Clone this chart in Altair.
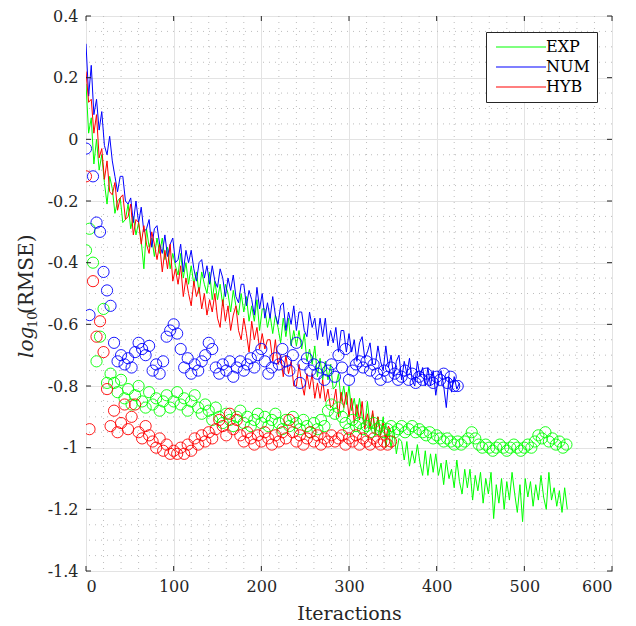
import altair as alt
import pandas as pd

# ---------------- data ----------------
series_names = ["EXP", "NUM", "HYB"]
series_colors = ["#00FF00", "#0000FF", "#FF0000"]

LINE_STEP = 3    # iterations between line samples
CIRC_STEP = 4    # iterations between circle samples

exp_line = [
    0.18, 0.02, 0.07, -0.08, 0.00, -0.10, -0.05, -0.14, -0.21, -0.12,
    -0.16, -0.24, -0.20, -0.19, -0.27, -0.26, -0.21, -0.29, -0.25, -0.31,
    -0.27, -0.33, -0.42, -0.29, -0.35, -0.32, -0.38, -0.32, -0.37, -0.32,
    -0.39, -0.35, -0.42, -0.37, -0.41, -0.44, -0.37, -0.45, -0.40, -0.47,
    -0.41, -0.47, -0.43, -0.50, -0.43, -0.47, -0.50, -0.43, -0.52, -0.46,
    -0.52, -0.47, -0.54, -0.47, -0.50, -0.56, -0.49, -0.54, -0.57, -0.50,
    -0.56, -0.51, -0.59, -0.54, -0.59, -0.52, -0.62, -0.55, -0.55, -0.61,
    -0.57, -0.63, -0.57, -0.61, -0.66, -0.58, -0.64, -0.58, -0.67, -0.62,
    -0.67, -0.62, -0.68, -0.63, -0.72, -0.68, -0.73, -0.67, -0.77, -0.71,
    -0.78, -0.72, -0.78, -0.73, -0.81, -0.80, -0.76, -0.85, -0.80, -0.86,
    -0.80, -0.88, -0.84, -0.90, -0.84, -0.90, -0.93, -0.85, -0.93, -0.89,
    -0.96, -0.90, -0.96, -0.90, -1.00, -0.94, -1.00, -0.94, -1.02, -0.97,
    -0.98, -1.04, -0.98, -1.06, -1.01, -1.05, -0.99, -1.05, -1.09, -1.01,
    -1.09, -1.02, -1.08, -1.02, -1.09, -1.05, -1.12, -1.04, -1.10, -1.07,
    -1.13, -1.04, -1.11, -1.15, -1.07, -1.13, -1.07, -1.17, -1.09, -1.14,
    -1.08, -1.18, -1.10, -1.15, -1.08, -1.23, -1.12, -1.18, -1.10, -1.20,
    -1.11, -1.17, -1.08, -1.15, -1.21, -1.12, -1.24, -1.10, -1.16, -1.11,
    -1.19, -1.12, -1.17, -1.09, -1.16, -1.20, -1.08, -1.17, -1.13, -1.19,
    -1.14, -1.21, -1.13, -1.20,
]

num_line = [
    0.31, 0.14, 0.24, 0.08, 0.13, 0.03, 0.09, -0.02, -0.05, 0.01,
    -0.07, -0.12, -0.17, -0.12, -0.12, -0.20, -0.21, -0.19, -0.27, -0.20,
    -0.27, -0.22, -0.30, -0.29, -0.26, -0.35, -0.29, -0.28, -0.34, -0.37,
    -0.31, -0.38, -0.34, -0.32, -0.40, -0.39, -0.34, -0.43, -0.36, -0.40,
    -0.36, -0.42, -0.46, -0.40, -0.39, -0.45, -0.41, -0.47, -0.41, -0.46,
    -0.48, -0.42, -0.45, -0.51, -0.45, -0.49, -0.44, -0.51, -0.53, -0.47,
    -0.47, -0.54, -0.49, -0.52, -0.57, -0.48, -0.55, -0.50, -0.58, -0.53,
    -0.58, -0.51, -0.57, -0.60, -0.54, -0.53, -0.62, -0.56, -0.60, -0.54,
    -0.62, -0.56, -0.56, -0.62, -0.64, -0.56, -0.61, -0.58, -0.65, -0.58,
    -0.64, -0.58, -0.67, -0.62, -0.66, -0.61, -0.69, -0.62, -0.62, -0.69,
    -0.63, -0.69, -0.65, -0.72, -0.66, -0.64, -0.71, -0.69, -0.66, -0.73,
    -0.73, -0.67, -0.72, -0.75, -0.67, -0.74, -0.70, -0.77, -0.72, -0.70,
    -0.78, -0.72, -0.76, -0.71, -0.78, -0.80, -0.72, -0.77, -0.74, -0.80,
    -0.74, -0.80, -0.75, -0.83, -0.77, -0.75, -0.80, -0.87, -0.77, -0.82,
    -0.77, -0.81, -0.79,
]

hyb_line = [
    0.22, 0.12, 0.13, 0.02, 0.08, -0.06, -0.03, -0.13, -0.07, -0.17,
    -0.18, -0.14, -0.23, -0.19, -0.18, -0.26, -0.25, -0.21, -0.31, -0.26,
    -0.27, -0.34, -0.28, -0.34, -0.37, -0.30, -0.34, -0.39, -0.34, -0.43,
    -0.36, -0.42, -0.34, -0.46, -0.42, -0.47, -0.41, -0.51, -0.45, -0.50,
    -0.54, -0.46, -0.51, -0.48, -0.55, -0.50, -0.57, -0.52, -0.56, -0.50,
    -0.58, -0.61, -0.52, -0.59, -0.54, -0.62, -0.57, -0.54, -0.62, -0.65,
    -0.58, -0.63, -0.69, -0.59, -0.65, -0.61, -0.68, -0.63, -0.68, -0.65,
    -0.65, -0.72, -0.65, -0.73, -0.70, -0.77, -0.70, -0.76, -0.72, -0.80,
    -0.80, -0.73, -0.79, -0.83, -0.76, -0.81, -0.76, -0.84, -0.79, -0.84,
    -0.78, -0.85, -0.81, -0.87, -0.86, -0.81, -0.90, -0.82, -0.87, -0.82,
    -0.90, -0.84, -0.92, -0.86, -0.91, -0.85, -0.94, -0.89, -0.94, -0.88,
    -0.95, -0.90, -0.96, -0.92, -0.97, -0.93, -0.95,
]

exp_circ = [
    -0.36, -0.29, -0.40, -0.72, -0.64, -0.55, -0.79, -0.76, -0.79, -0.82,
    -0.78, -0.84, -0.81, -0.86, -0.83, -0.80, -0.85, -0.87, -0.82, -0.86,
    -0.84, -0.88, -0.85, -0.83, -0.87, -0.85, -0.82, -0.86, -0.84, -0.88,
    -0.85, -0.83, -0.87, -0.89, -0.86, -0.88, -0.91, -0.87, -0.90, -0.92,
    -0.89, -0.91, -0.93, -0.90, -0.88, -0.92, -0.90, -0.93, -0.91, -0.89,
    -0.92, -0.90, -0.93, -0.91, -0.89, -0.92, -0.94, -0.91, -0.93, -0.90,
    -0.92, -0.94, -0.91, -0.93, -0.95, -0.92, -0.94, -0.91, -0.93, -0.88,
    -0.86, -0.89, -0.87, -0.90, -0.92, -0.94, -0.91, -0.93, -0.92, -0.94,
    -0.93, -0.95, -0.92, -0.94, -0.93, -0.95, -0.94, -0.93, -0.95, -0.94,
    -0.93, -0.95, -0.94, -0.93, -0.95, -0.94, -0.95, -0.96, -0.95, -0.97,
    -0.96, -0.97, -0.98, -0.97, -0.98, -0.99, -0.98, -0.99, -0.98, -0.97,
    -0.95, -0.97, -0.99, -1.00, -0.99, -1.00, -1.01, -1.00, -0.99, -1.00,
    -1.01, -1.00, -0.99, -1.00, -1.01, -1.00, -0.99, -1.00, -0.98, -0.96,
    -0.97, -0.95, -0.98, -0.97, -0.99, -0.98, -1.00, -0.99,
]

num_circ = [
    -0.03, -0.57, -0.12, -0.27, -0.30, -0.43, -0.49, -0.54, -0.66, -0.72,
    -0.70, -0.73, -0.71, -0.74, -0.69, -0.66, -0.68, -0.70, -0.67, -0.75,
    -0.73, -0.76, -0.72, -0.64, -0.62, -0.60, -0.63, -0.68, -0.74, -0.71,
    -0.76, -0.73, -0.75, -0.72, -0.70, -0.66, -0.68, -0.74, -0.76, -0.73,
    -0.75, -0.72, -0.77, -0.74, -0.72, -0.75, -0.73, -0.71, -0.74, -0.70,
    -0.68, -0.72, -0.76, -0.74, -0.71, -0.73, -0.68, -0.72, -0.75, -0.70,
    -0.66, -0.79, -0.73, -0.71, -0.75, -0.73, -0.76, -0.74, -0.78, -0.75,
    -0.73, -0.77, -0.70, -0.74, -0.68, -0.78, -0.75, -0.73, -0.72, -0.74,
    -0.72, -0.75, -0.73, -0.76, -0.78, -0.75, -0.77, -0.74, -0.76, -0.78,
    -0.77, -0.75, -0.78, -0.76, -0.79, -0.77, -0.78, -0.76, -0.78, -0.79,
    -0.77, -0.78, -0.76, -0.79, -0.77, -0.80, -0.80,
]

hyb_circ = [
    -0.12, -0.94, -0.46, -0.64, -0.59, -0.69, -0.81, -0.93, -0.88, -0.95,
    -0.92, -0.86, -0.94, -0.90, -0.86, -0.95, -0.97, -0.93, -0.96, -0.98,
    -1.00, -0.97, -1.01, -0.99, -1.02, -1.01, -1.02, -1.00, -1.02, -0.99,
    -1.01, -0.97, -0.99, -0.96, -0.98, -0.95, -0.97, -0.94, -0.91, -0.93,
    -0.96, -0.89, -0.94, -0.91, -0.96, -0.98, -0.95, -0.97, -0.99, -0.96,
    -0.98, -0.95, -0.97, -0.99, -0.96, -0.98, -0.95, -0.97, -0.91, -0.95,
    -0.98, -0.96, -0.99, -0.97, -0.95, -0.98, -0.96, -0.99, -0.97, -0.98,
    -0.96, -0.98, -0.97, -0.96, -0.99, -0.97, -0.98, -0.96, -0.99, -0.97,
    -0.98, -0.99, -0.97, -0.98, -0.99, -0.98, -0.99, -0.98,
]

x_ticks = [0, 100, 200, 300, 400, 500, 600]
y_ticks = [-1.4, -1.2, -1.0, -0.8, -0.6, -0.4, -0.2, 0.0, 0.2, 0.4]
x_minor = [20, 40, 60, 80, 120, 140, 160, 180, 220, 240, 260, 280, 320, 340, 360, 380,
           420, 440, 460, 480, 520, 540, 560, 580]
y_minor = [-1.35, -1.3, -1.25, -1.15, -1.1, -1.05, -0.95, -0.9, -0.85, -0.75, -0.7, -0.65,
           -0.55, -0.5, -0.45, -0.35, -0.3, -0.25, -0.15, -0.1, -0.05, 0.05, 0.1, 0.15,
           0.25, 0.3, 0.35]

X_DOMAIN = [0, 600]
Y_DOMAIN = [-1.4, 0.4]

# ---------------- tables ----------------
def series_table(values, step, name):
    return pd.DataFrame({"it": [i * step for i in range(len(values))],
                         "val": values, "series": name})

lines_df = pd.concat([
    series_table(exp_line, LINE_STEP, "EXP"),
    series_table(num_line, LINE_STEP, "NUM"),
    series_table(hyb_line, LINE_STEP, "HYB"),
], ignore_index=True)

circ_tables = [
    series_table(exp_circ, CIRC_STEP, "EXP"),
    series_table(num_circ, CIRC_STEP, "NUM"),
    series_table(hyb_circ, CIRC_STEP, "HYB"),
]

W, H = 526, 555
FONT = "DejaVu Serif"
AXC = "#262626"

xs = alt.Scale(domain=X_DOMAIN, nice=False, zero=False)
ys = alt.Scale(domain=Y_DOMAIN, nice=False, zero=False)

x_axis = alt.Axis(values=x_ticks, title="Iteractions", grid=True, gridColor="#E3E3E3",
                  ticks=False, domain=False, labelFont=FONT, labelFontSize=16,
                  labelColor=AXC, labelPadding=7, titleFont=FONT, titleFontSize=19,
                  titleFontWeight="normal", titleColor=AXC, titlePadding=10)
y_axis = alt.Axis(values=y_ticks, title=None, grid=True, gridColor="#E3E3E3",
                  ticks=False, domain=False, labelFont=FONT, labelFontSize=16,
                  labelColor=AXC, labelPadding=8,
                  labelExpr="replace(format(datum.value, '.2~f'), '\u2212', '-')")

# minor dotted grid
grid_x = alt.Chart(pd.DataFrame({"v": x_minor})).mark_rule(
    color="#BDBDBD", strokeWidth=1, strokeDash=[1, 5]).encode(
    x=alt.X("v:Q", scale=xs, axis=x_axis))
grid_y = alt.Chart(pd.DataFrame({"v": y_minor})).mark_rule(
    color="#BDBDBD", strokeWidth=1, strokeDash=[1, 5]).encode(
    y=alt.Y("v:Q", scale=ys, axis=y_axis))

# lines
lines = alt.Chart(lines_df).mark_line(strokeWidth=1, clip=True).encode(
    x=alt.X("it:Q", scale=xs, axis=x_axis),
    y=alt.Y("val:Q", scale=ys, axis=y_axis),
    color=alt.Color("series:N", sort=series_names,
                    scale=alt.Scale(domain=series_names, range=series_colors),
                    legend=alt.Legend(title=None, orient="none", legendX=400, legendY=16,
                                      direction="vertical", symbolType="M-1,0H9",
                                      symbolSize=100, symbolStrokeWidth=1.2,
                                      labelFont=FONT, labelFontSize=16, labelColor="#000000",
                                      labelOffset=37, padding=7, rowPadding=4,
                                      labelExpr="datum.label + '    '",
                                      strokeColor=AXC, fillColor="#FFFFFF")),
    detail="series:N",
)

circle_layers = []
for df, col in zip(circ_tables, series_colors):
    circle_layers.append(
        alt.Chart(df).mark_point(shape="circle", filled=False, size=125, strokeWidth=0.9,
                                 color=col, opacity=1, clip=True).encode(
            x=alt.X("it:Q", scale=xs), y=alt.Y("val:Q", scale=ys)))

# inward ticks on all four sides
xt_df = pd.DataFrame({"v": x_ticks})
yt_df = pd.DataFrame({"v": y_ticks})
tick_b = alt.Chart(xt_df).mark_rule(color=AXC, strokeWidth=1).encode(
    x=alt.X("v:Q", scale=xs), y=alt.value(H), y2=alt.value(H - 5))
tick_t = alt.Chart(xt_df).mark_rule(color=AXC, strokeWidth=1).encode(
    x=alt.X("v:Q", scale=xs), y=alt.value(0), y2=alt.value(5))
tick_l = alt.Chart(yt_df).mark_rule(color=AXC, strokeWidth=1).encode(
    y=alt.Y("v:Q", scale=ys), x=alt.value(0), x2=alt.value(5))
tick_r = alt.Chart(yt_df).mark_rule(color=AXC, strokeWidth=1).encode(
    y=alt.Y("v:Q", scale=ys), x=alt.value(W), x2=alt.value(W - 5))

# y-axis title composed of italic "log", subscript "10" and "(RMSE)"
ylog = alt.Chart(pd.DataFrame({"t": ["log"]})).mark_text(
    font=FONT, fontSize=20, fontStyle="italic", angle=270,
    align="left", baseline="alphabetic", color=AXC).encode(
    text="t:N", x=alt.value(-53), y=alt.value(342))
ysub = alt.Chart(pd.DataFrame({"t": ["10"]})).mark_text(
    font=FONT, fontSize=13, angle=270,
    align="left", baseline="alphabetic", color=AXC).encode(
    text="t:N", x=alt.value(-49), y=alt.value(312))
yrest = alt.Chart(pd.DataFrame({"t": ["(RMSE)"]})).mark_text(
    font=FONT, fontSize=20, angle=270,
    align="left", baseline="alphabetic", color=AXC).encode(
    text="t:N", x=alt.value(-53), y=alt.value(298))

chart = alt.layer(
    grid_x, grid_y, lines, *circle_layers, tick_b, tick_t, tick_l, tick_r, ylog, ysub, yrest
).properties(
    width=W, height=H,
    padding={"left": 86, "top": 16, "right": 24, "bottom": 55},
    autosize=alt.AutoSizeParams(type="none"),
    background="#FFFFFF",
).configure_view(
    stroke=AXC, strokeWidth=1
)

chart.save("out.html", embed_options={"renderer": "svg", "actions": False})
